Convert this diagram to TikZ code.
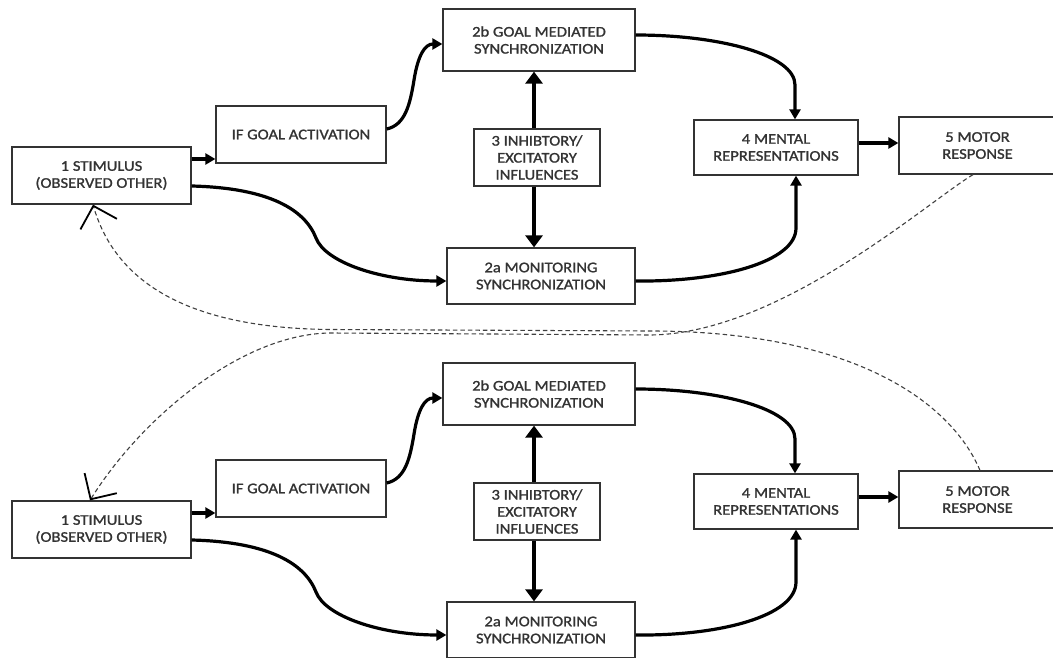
\documentclass[tikz,border=0pt]{standalone}
\usepackage{fontspec}
\setmainfont{Carlito}[FakeStretch=1.12, FakeBold=1.2]
\usetikzlibrary{arrows.meta}
\tikzset{
  bx/.style={draw=black!80, line width=1.3pt, fill=white, inner sep=0pt, align=center,
    font=\fontsize{14.8}{17}\selectfont, text=black!80},
  conn/.style={line width=3.2pt, -{Triangle[length=10pt,width=11pt]}},
  vconn/.style={line width=4.6pt, -{Triangle[length=12pt,width=17pt]}},
  dsh/.style={line width=1.1pt, black!75, dash pattern=on 4.5pt off 3pt,
    -{Straight Barb[length=19pt,width=38pt,line width=1.8pt,color=black]}},
}
\newcommand\halfdiag[1]{%
  \node[bx, minimum width=179pt, minimum height=57pt] (s#1) at (101.5,175.5) {1 STIMULUS\\(OBSERVED OTHER)};
  \node[bx, minimum width=170pt, minimum height=57pt] (f#1) at (301,134.5) {IF GOAL ACTIVATION};
  \node[bx, minimum width=192pt, minimum height=62pt] (b#1) at (539,40) {2b GOAL MEDIATED\\SYNCHRONIZATION};
  \node[bx, minimum width=126pt, minimum height=57pt] (i#1) at (537,157.5) {3 INHIBTORY/\\EXCITATORY\\INFLUENCES};
  \node[bx, minimum width=188pt, minimum height=56pt] (a#1) at (541,276) {2a MONITORING\\SYNCHRONIZATION};
  \node[bx, minimum width=164pt, minimum height=55pt] (m#1) at (776,147.5) {4 MENTAL\\REPRESENTATIONS};
  \node[bx, minimum width=157pt, minimum height=57pt] (r#1) at (977.5,145.5) {5 MOTOR\\RESPONSE};
  % stimulus -> goal activation
  \draw[conn] ([yshift=16.5pt]s#1.east) -- ([yshift=-24.5pt]f#1.west);
  % stimulus -> 2a
  \draw[conn] ([yshift=-10.5pt]s#1.east) .. controls (270,188) and (305,210) .. (316,238)
     .. controls (325,262) and (380,281) .. ([yshift=-5pt]a#1.west);
  % goal activation -> 2b
  \draw[conn] ([yshift=5.5pt]f#1.east) .. controls (405,125) and (410,105) .. (414,80)
     .. controls (418,55) and (425,44) .. ([yshift=-4pt]b#1.west);
  % 3 -> 2b and 3 -> 2a
  \draw[vconn] ([xshift=-3pt]i#1.north) -- ([xshift=-5pt]b#1.south);
  \draw[vconn] ([xshift=-3pt]i#1.south) -- ([xshift=-7pt]a#1.north);
  % 2b -> 4
  \draw[conn] ([yshift=5pt]b#1.east) .. controls (720,35) and (795,55) .. (795,85)
     -- ([xshift=19pt]m#1.north);
  % 2a -> 4
  \draw[conn] ([yshift=-5pt]a#1.east) .. controls (720,282) and (796,262) .. (796,228)
     -- ([xshift=20pt]m#1.south);
  % 4 -> 5
  \draw[conn] ([yshift=4.5pt]m#1.east) -- ([yshift=2.5pt]r#1.west);
}
\begin{document}
\begin{tikzpicture}[x=1pt, y=-1pt]
  \useasboundingbox (0,0) rectangle (1053,658);
  \begin{scope}
    \halfdiag{T}
  \end{scope}
  \begin{scope}[yshift=-354pt]
    \halfdiag{B}
  \end{scope}
  % feedback loops
  \draw[dsh] ([xshift=-4.5pt]rT.south) .. controls (930,200) and (780,334) .. (650,335)
     -- (330,333) .. controls (240,334) and (140,420) .. ([xshift=-11.5pt]sB.north);
  \draw[dsh] ([xshift=2.5pt]rB.north) .. controls (950,400) and (850,331) .. (650,331)
     -- (330,329.5) .. controls (170,328) and (112,270) .. ([xshift=-8.5pt]sT.south);
\end{tikzpicture}
\end{document}
